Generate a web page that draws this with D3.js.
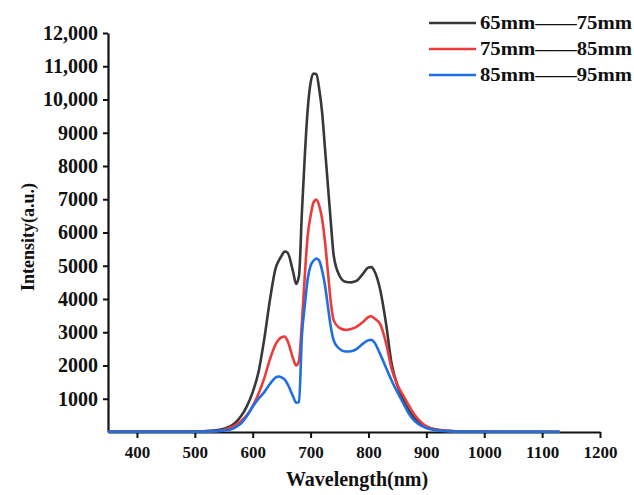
<!DOCTYPE html>
<html>
<head>
<meta charset="utf-8">
<script src="https://cdn.jsdelivr.net/npm/d3@7"></script>
<style>
  html, body { margin: 0; padding: 0; background: #fff; }
  svg { display: block; }
  text { font-family: "Liberation Serif", "Times New Roman", serif; font-weight: bold; fill: #111; }
</style>
</head>
<body>
<svg id="chart" width="634" height="495"></svg>
<script>
const wavelengths = [350, 400, 450, 500, 520, 540, 550, 560, 570, 580, 590, 600, 610, 620, 630, 640, 645, 650, 655, 660, 670, 675, 680, 685, 690, 695, 700, 705, 710, 715, 720, 725, 730, 735, 740, 750, 760, 770, 780, 790, 800, 805, 810, 820, 830, 840, 850, 860, 870, 880, 890, 900, 920, 940, 960, 1000, 1050, 1100, 1130];

const series65_75 = [10, 10, 10, 20, 30, 60, 100, 160, 280, 480, 780, 1200, 1800, 2800, 4000, 4950, 5150, 5300, 5430, 5400, 4800, 4450, 4700, 6600, 8300, 9700, 10500, 10780, 10760, 10300, 9600, 8500, 7400, 6300, 5300, 4700, 4520, 4500, 4550, 4750, 4950, 4960, 4850, 4300, 3300, 2050, 1400, 980, 640, 400, 250, 160, 70, 35, 20, 10, 8, 8, 8];

const series75_85 = [6, 6, 6, 8, 12, 30, 60, 120, 210, 330, 510, 780, 1150, 1620, 2200, 2650, 2780, 2850, 2870, 2750, 2200, 2000, 2150, 3300, 4700, 5900, 6500, 6900, 6990, 6800, 6400, 5700, 4800, 3900, 3350, 3130, 3070, 3100, 3170, 3300, 3460, 3480, 3420, 3250, 2700, 1900, 1420, 1100, 790, 510, 310, 170, 60, 25, 12, 6, 6, 6, 6];

const series85_95 = [6, 6, 6, 8, 12, 25, 45, 70, 140, 260, 480, 760, 1000, 1200, 1450, 1640, 1670, 1640, 1580, 1450, 1060, 880, 900, 2900, 3800, 4600, 5000, 5150, 5220, 5150, 4850, 4400, 3770, 3150, 2750, 2500, 2420, 2430, 2500, 2650, 2760, 2770, 2700, 2350, 1950, 1550, 1200, 870, 550, 330, 200, 120, 45, 20, 10, 6, 6, 6, 6];

const seriesNames = ["65mm——75mm", "75mm——85mm", "85mm——95mm"];
const seriesColors = ["#383838", "#ee3a3a", "#1f6fe2"];

const xTicks = [400, 500, 600, 700, 800, 900, 1000, 1100, 1200];
const yTicks = [1000, 2000, 3000, 4000, 5000, 6000, 7000, 8000, 9000, 10000, 11000, 12000];
const yTickLabels = ["1000", "2000", "3000", "4000", "5000", "6000", "7000", "8000", "9000", "10,000", "11,000", "12,000"];

const svg = d3.select("#chart");
const mLeft = 108, mRight = 600, mTop = 33, mBottom = 432;

const x = d3.scaleLinear().domain([350, 1200]).range([mLeft, mRight]);
const y = d3.scaleLinear().domain([0, 12000]).range([mBottom, mTop]);

const serif = '"Liberation Serif", "Times New Roman", serif';

// axes
const xAxis = d3.axisBottom(x).tickValues(xTicks).tickSize(6).tickSizeOuter(0).tickPadding(8).tickFormat(d3.format("d"));
const gx = svg.append("g").attr("transform", `translate(0,${mBottom})`).call(xAxis);
gx.select(".domain").attr("stroke", "#111").attr("stroke-width", 2.2);
gx.selectAll(".tick line").attr("stroke", "#111").attr("stroke-width", 2);
gx.selectAll(".tick text").style("font-size", "17px").style("font-family", serif).style("font-weight", "bold").attr("fill", "#111");

const yAxis = d3.axisLeft(y).tickValues(yTicks).tickSize(5).tickSizeOuter(0).tickPadding(5)
  .tickFormat((d, i) => yTickLabels[i]);
const gy = svg.append("g").attr("transform", `translate(${mLeft},0)`).call(yAxis);
gy.select(".domain").attr("stroke", "#111").attr("stroke-width", 2.2);
gy.selectAll(".tick line").attr("stroke", "#111").attr("stroke-width", 2);
gy.selectAll(".tick text").style("font-size", "20px").style("font-family", serif).style("font-weight", "bold").attr("fill", "#111");

// axis titles
svg.append("text").attr("x", 357).attr("y", 486).attr("text-anchor", "middle")
  .style("font-size", "20px").style("font-family", serif).text("Wavelength(nm)");
svg.append("text").attr("transform", "translate(34,237) rotate(-90)").attr("text-anchor", "middle")
  .style("font-size", "18px").style("font-family", serif).text("Intensity(a.u.)");

// lines
const allSeries = [series65_75, series75_85, series85_95];
const line = d3.line().x((d, i) => x(wavelengths[i])).y(d => y(d)).curve(d3.curveMonotoneX);
allSeries.forEach((s, k) => {
  svg.append("path").datum(s).attr("fill", "none").attr("stroke", seriesColors[k])
    .attr("stroke-width", 2.6).attr("stroke-linejoin", "round").attr("d", line);
});

// legend
const legendY = [23, 49, 75];
seriesNames.forEach((name, k) => {
  svg.append("line").attr("x1", 429).attr("x2", 476).attr("y1", legendY[k]).attr("y2", legendY[k])
    .attr("stroke", seriesColors[k]).attr("stroke-width", 2.6);
  svg.append("text").attr("x", 480).attr("y", legendY[k] + 6).style("font-size", "19px").style("font-family", serif)
    .attr("textLength", 152).attr("lengthAdjust", "spacingAndGlyphs").text(name);
});
</script>
</body>
</html>
